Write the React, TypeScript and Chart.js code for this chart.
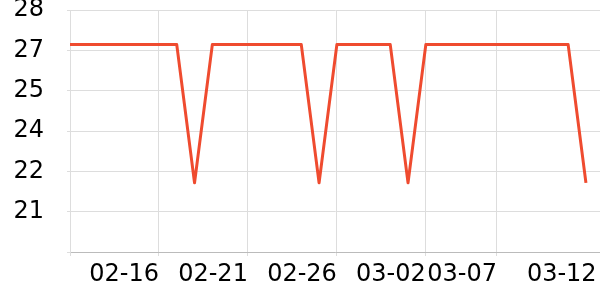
import React, { useEffect, useRef } from "react";
import { Chart, registerables } from "chart.js";

Chart.register(...registerables);

// data points (index along the x axis) and values
const pointIndex = [
  0, 1, 2, 3, 4, 5, 6, 7, 8, 9, 10, 11, 12, 13, 14, 15, 16, 17, 18, 19, 20, 21, 22, 23, 24, 25, 26, 27, 28, 29,
];
const values = [
  26.8, 26.8, 26.8, 26.8, 26.8, 26.8, 26.8, 22.0, 26.8, 26.8, 26.8, 26.8, 26.8, 26.8, 22.0, 26.8, 26.8, 26.8, 26.8,
  22.0, 26.8, 26.8, 26.8, 26.8, 26.8, 26.8, 26.8, 26.8, 26.8, 22.0,
];

// x ticks (axis values) and their labels
const xTickValues = [0, 5, 10, 15, 20, 24, 29.6];
const xTickLabels = ["", "02-16", "02-21", "02-26", "03-02", "03-07", "03-12"];

// y ticks and their labels
const yTickValues = [19.6, 21, 22.4, 23.8, 25.2, 26.6, 28];
const yTickLabels = ["", "21", "22", "24", "25", "27", "28"];

const X_MIN = 0;
const X_MAX = 29.79;
const Y_MIN = 19.6;
const Y_MAX = 28;

export default function App() {
  const ref = useRef<HTMLCanvasElement | null>(null);

  useEffect(() => {
    document.body.style.margin = "0";
    const canvas = ref.current;
    if (!canvas) return;
    const font = { family: "DejaVu Sans", size: 24 };
    const chart = new Chart(canvas, {
      type: "line",
      data: {
        datasets: [
          {
            data: pointIndex.map((x, i) => ({ x, y: values[i] })),
            borderColor: "#ef4b2f",
            borderWidth: 3,
            borderJoinStyle: "round",
            pointRadius: 0,
            fill: false,
            tension: 0,
          },
        ],
      },
      options: {
        animation: false,
        responsive: false,
        maintainAspectRatio: false,
        layout: { padding: { top: 10, left: 0, right: 0, bottom: 0 } },
        plugins: { legend: { display: false }, tooltip: { enabled: false } },
        scales: {
          x: {
            type: "linear",
            min: X_MIN,
            max: X_MAX,
            afterBuildTicks: (scale: any) => {
              scale.ticks = xTickValues.map((v) => ({ value: v }));
            },
            afterFit: (scale: any) => {
              scale.height = 48;
              scale.paddingLeft = 0;
              scale.paddingRight = 0;
            },
            ticks: {
              autoSkip: false,
              maxRotation: 0,
              align: "end",
              padding: 4,
              color: "#000",
              font,
              callback: (v: any) => {
                const i = xTickValues.indexOf(Number(v));
                return i >= 0 ? xTickLabels[i] : "";
              },
            },
            grid: {
              color: (ctx: any) => (ctx.index === xTickValues.length - 1 ? "rgba(0,0,0,0)" : "#dddddd"),
              tickLength: 4,
              lineWidth: 1,
            },
            border: { color: "#bbbbbb", width: 1 },
          },
          y: {
            type: "linear",
            min: Y_MIN,
            max: Y_MAX,
            afterBuildTicks: (scale: any) => {
              scale.ticks = yTickValues.map((v) => ({ value: v }));
            },
            afterFit: (scale: any) => {
              scale.width = 70;
              scale.paddingTop = 0;
              scale.paddingBottom = 0;
            },
            ticks: {
              autoSkip: false,
              padding: 23,
              color: "#000",
              font,
              callback: (v: any) => {
                const i = yTickValues.findIndex((t) => Math.abs(t - Number(v)) < 1e-6);
                return i >= 0 ? yTickLabels[i] : "";
              },
            },
            grid: { color: "#dddddd", tickLength: 3, lineWidth: 1 },
            border: { color: "#dddddd", width: 1 },
          },
        },
      },
    });
    return () => chart.destroy();
  }, []);

  return (
    <div style={{ position: "absolute", left: 0, top: 0, width: 600, height: 300 }}>
      <canvas ref={ref} width={600} height={300} style={{ display: "block" }} />
    </div>
  );
}
